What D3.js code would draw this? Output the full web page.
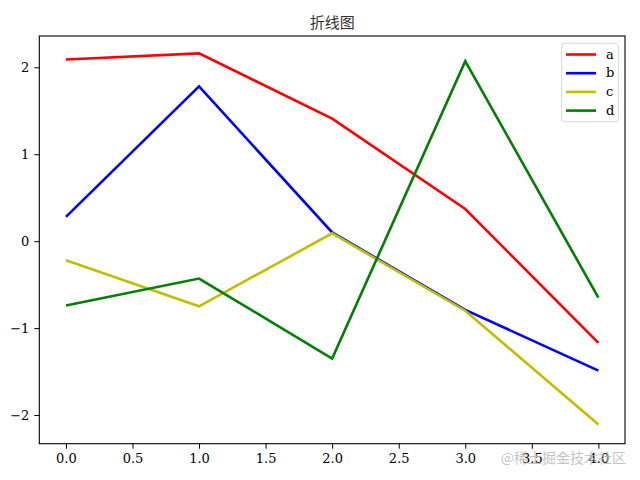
<!DOCTYPE html>
<html>
<head>
<meta charset="utf-8">
<script src="https://cdn.jsdelivr.net/npm/d3@7"></script>
<style>
html,body{margin:0;padding:0;background:#fff;}
svg{display:block;}
text{font-family:"DejaVu Serif","Liberation Serif","Noto Sans CJK SC",serif;}
</style>
</head>
<body>
<svg id="chart" width="640" height="480"></svg>
<script>
const xValues = [0, 1, 2, 3, 4];
const seriesNames = ["a", "b", "c", "d"];
const seriesA = [2.09, 2.16, 1.41, 0.37, -1.17];
const seriesB = [0.28, 1.78, 0.10, -0.79, -1.49];
const seriesC = [-0.22, -0.75, 0.09, -0.80, -2.11];
const seriesD = [-0.74, -0.43, -1.35, 2.07, -0.65];
const seriesColors = ["#ff0000", "#0000ff", "#bfbf00", "#008000"];
const xTicks = [0, 0.5, 1, 1.5, 2, 2.5, 3, 3.5, 4];
const yTicks = [-2, -1, 0, 1, 2];
const titleText = "折线图";
const watermark = "@稀土掘金技术社区";

const allSeries = [seriesA, seriesB, seriesC, seriesD];
const svg = d3.select("#chart");
const L = 39.3, R = 625, T = 36, B = 443.7;

const x = d3.scaleLinear().domain([-0.2, 4.2]).range([L, R]);
const y = d3.scaleLinear().domain([-2.33, 2.36]).range([B, T]);

const fmtMinus = v => (v < 0 ? "\u2212" + Math.abs(v) : String(v));

// axes
const xAxis = d3.axisBottom(x).tickValues(xTicks).tickSize(5).tickPadding(5)
  .tickFormat(d => d3.format(".1f")(d));
const gx = svg.append("g").attr("transform", `translate(0,${B})`).call(xAxis);
const yAxis = d3.axisLeft(y).tickValues(yTicks).tickSize(5).tickPadding(5)
  .tickFormat(fmtMinus);
const gy = svg.append("g").attr("transform", `translate(${L},0)`).call(yAxis);
[gx, gy].forEach(g => {
  g.select(".domain").remove();
  g.selectAll(".tick line").attr("stroke", "#000").attr("stroke-width", 1);
  g.selectAll(".tick text").attr("fill", "#000").style("font-size", "13px")
    .style("font-family", '"DejaVu Serif","Liberation Serif",serif');
});

// lines
const line = d3.line().x((d, i) => x(xValues[i])).y(d => y(d));
allSeries.forEach((s, i) => {
  svg.append("path").datum(s).attr("d", line)
    .attr("fill", "none").attr("stroke", seriesColors[i])
    .attr("stroke-width", 2.6).attr("stroke-linejoin", "miter").attr("stroke-linecap", "butt");
});

// frame
svg.append("rect").attr("x", L).attr("y", T).attr("width", R - L).attr("height", B - T)
  .attr("fill", "none").attr("stroke", "#000").attr("stroke-width", 1.1);

// title
svg.append("text").attr("x", (L + R) / 2).attr("y", 28).attr("text-anchor", "middle")
  .style("font-size", "15px").style("font-family", '"Noto Sans CJK SC",sans-serif')
  .attr("fill", "#333").text(titleText);

// legend
const lg = svg.append("g");
lg.append("rect").attr("x", 561.7).attr("y", 43.3).attr("width", 56.6).attr("height", 78.4)
  .attr("rx", 2.5).attr("fill", "#fff").attr("fill-opacity", 0.8)
  .attr("stroke", "#d6d6d6").attr("stroke-width", 1);
seriesNames.forEach((n, i) => {
  const yy = 54.5 + i * 18.7;
  lg.append("line").attr("x1", 566).attr("x2", 596).attr("y1", yy).attr("y2", yy)
    .attr("stroke", seriesColors[i]).attr("stroke-width", 2.6);
  lg.append("text").attr("x", 606).attr("y", yy + 4).style("font-size", "13px")
    .attr("fill", "#000").text(n);
});

// watermark
svg.append("text").attr("x", 626).attr("y", 463).attr("text-anchor", "end")
  .style("font-size", "14px").style("font-family", '"Noto Sans CJK SC",sans-serif')
  .attr("fill", "#b8b8b8").attr("fill-opacity", 0.85).text(watermark);
</script>
</body>
</html>
